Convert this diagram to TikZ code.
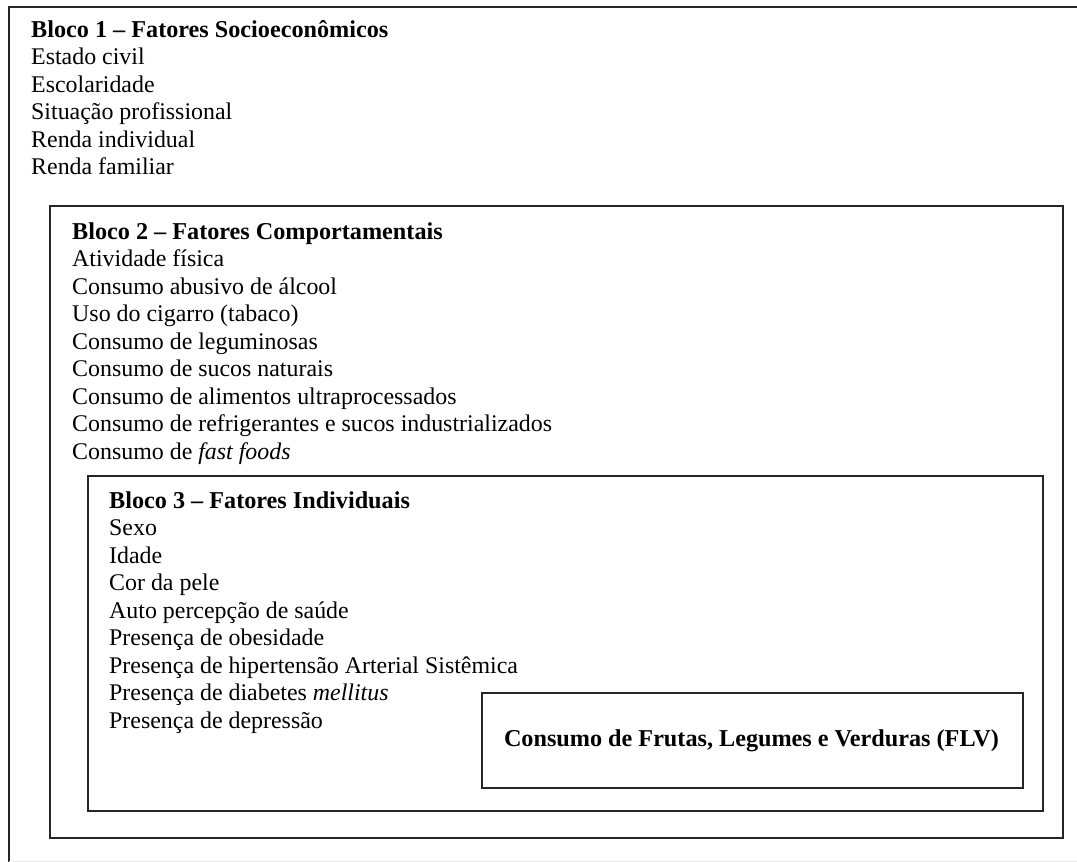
\documentclass[tikz,border=0pt]{standalone}
\usepackage{fontspec}
\setmainfont{Liberation Serif}
\usepackage{tikz}
\usetikzlibrary{positioning}

\tikzset{
  item/.style={anchor=base west, inner sep=0pt, font=\fontsize{23.9}{27.5}\selectfont},
  title/.style={item, font=\fontsize{24.2}{27.5}\selectfont\bfseries},
  boxline/.style={draw=black!85, line width=2pt}
}

\begin{document}
\begin{tikzpicture}[x=1pt, y=-1pt]
    \useasboundingbox (0,0) rectangle (1077,862);
    % outer block runs off the right edge
    \draw[boxline] (1090,7) -- (9,7) -- (9,862);
    \draw[gray!15, line width=1pt] (9,861) -- (1077,861);
    \draw[boxline] (50,206) rectangle (1063,838);
    \draw[boxline] (88,476) rectangle (1043,811);
    \draw[boxline] (482,693) rectangle (1023,788);

    % Bloco 1
    \node[title] (bloco1) at (31,37) {Bloco 1 -- Fatores Socioeconômicos};
    \foreach \t [count=\i] in {Estado civil, Escolaridade, Situação profissional,
        Renda individual, Renda familiar}
        \node[item] (b1-\i) at (31,{37+27.5*\i}) {\t};

    % Bloco 2
    \node[title] (bloco2) at (72,239) {Bloco 2 -- Fatores Comportamentais};
    \foreach \t [count=\i] in {Atividade física, Consumo abusivo de álcool,
        Uso do cigarro (tabaco), Consumo de leguminosas, Consumo de sucos naturais,
        Consumo de alimentos ultraprocessados,
        Consumo de refrigerantes e sucos industrializados,
        Consumo de \textit{fast foods}}
        \node[item] (b2-\i) at (72,{239+27.5*\i}) {\t};

    % Bloco 3
    \node[title] (bloco3) at (109,508) {Bloco 3 -- Fatores Individuais};
    \foreach \t [count=\i] in {Sexo, Idade, Cor da pele, Auto percepção de saúde,
        Presença de obesidade, Presença de hipertensão Arterial Sistêmica,
        Presença de diabetes \textit{mellitus}, Presença de depressão}
        \node[item] (b3-\i) at (109,{508+27.5*\i}) {\t};

    % desfecho
    \node[font=\fontsize{24.2}{27.5}\selectfont\bfseries, inner sep=0pt] (flv) at (751.5,740.5)
        {Consumo de Frutas, Legumes e Verduras (FLV)};
\end{tikzpicture}
\end{document}
